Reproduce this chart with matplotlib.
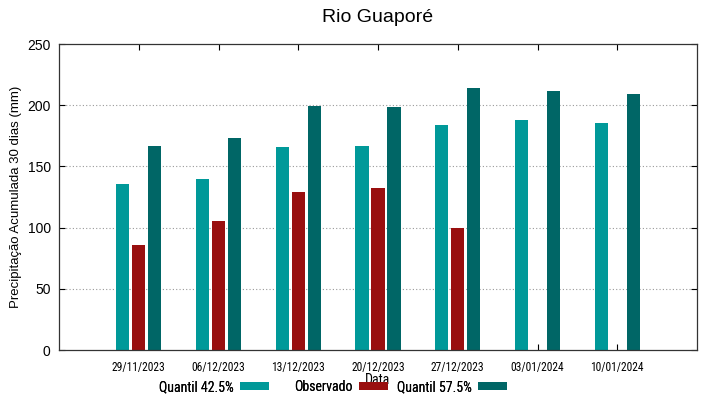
import matplotlib
matplotlib.use("Agg")
import matplotlib.pyplot as plt
from matplotlib import font_manager as fm
import numpy as np

plt.rcParams['font.family'] = ['Liberation Sans', 'DejaVu Sans']


def narrow_props(size):
    for name, stretch in [('Roboto Condensed', None), ('DejaVu Sans', 'condensed')]:
        for f in fm.fontManager.ttflist:
            if f.name == name and f.style == 'normal' and str(f.weight) in ('400', 'normal', 'regular') \
                    and (stretch is None or str(f.stretch) == stretch) and 'Italic' not in f.fname:
                return fm.FontProperties(fname=f.fname, size=size)
    return fm.FontProperties(family='Liberation Sans', size=size * 0.85)


dates = ["29/11/2023", "06/12/2023", "13/12/2023", "20/12/2023", "27/12/2023", "03/01/2024", "10/01/2024"]
q425 = [136, 140, 166, 166.5, 184, 188, 185.5]
observado = [86, 105.5, 129, 132.5, 99.5, np.nan, np.nan]
q575 = [167, 173, 199.5, 198.5, 214, 212, 209]

fig = plt.figure(figsize=(7.19, 3.99), dpi=100)
ax = fig.add_axes([59/719, 49/399, 638/719, 306/399])

x = np.arange(len(dates))
w = 0.165
b1 = ax.bar(x - 0.2, q425, w, color="#009999", label="Quantil 42.5%", zorder=2)
b2 = ax.bar(x, observado, w, color="#990f0f", label="Observado", zorder=2)
b3 = ax.bar(x + 0.2, q575, w, color="#006666", label="Quantil 57.5%", zorder=2)

ax.set_xlim(-1, 7)
ax.set_ylim(0, 250)
ax.set_yticks([0, 50, 100, 150, 200, 250])
ax.set_xticks(x)
ax.set_xticklabels(dates, fontproperties=narrow_props(8.3))
ax.tick_params(axis='y', labelsize=10, direction='in', right=True, length=4, pad=6)
ax.tick_params(axis='x', direction='in', top=True, length=4, pad=8)
for gy in [50, 100, 150, 200]:
    ax.axhline(gy, color="#999999", lw=0.8, ls=(0, (1, 2)), zorder=1)
for s in ax.spines.values():
    s.set_linewidth(0.9)
    s.set_color("#333333")

ax.set_ylabel("Precipitação Acumulada 30 dias (mm)", fontsize=9.5, labelpad=4)
ax.set_xlabel("Data", fontproperties=narrow_props(10), labelpad=-1)
ax.set_title("Rio Guaporé", fontsize=14, pad=16)

# legend: three fixed-width columns, text right-justified before the swatch
swatch_right = [269, 388, 507]
for h, xr in zip([b1, b2, b3], swatch_right):
    lg = fig.legend(handles=[h], loc='center right', bbox_to_anchor=(xr / 719, 1 - 387 / 399),
                    frameon=False, markerfirst=False, borderpad=0, borderaxespad=0,
                    handlelength=2.1, handleheight=0.45, handletextpad=0.45,
                    prop=narrow_props(10))
    fig.add_artist(lg)

fig.savefig("out.png", dpi=100)
